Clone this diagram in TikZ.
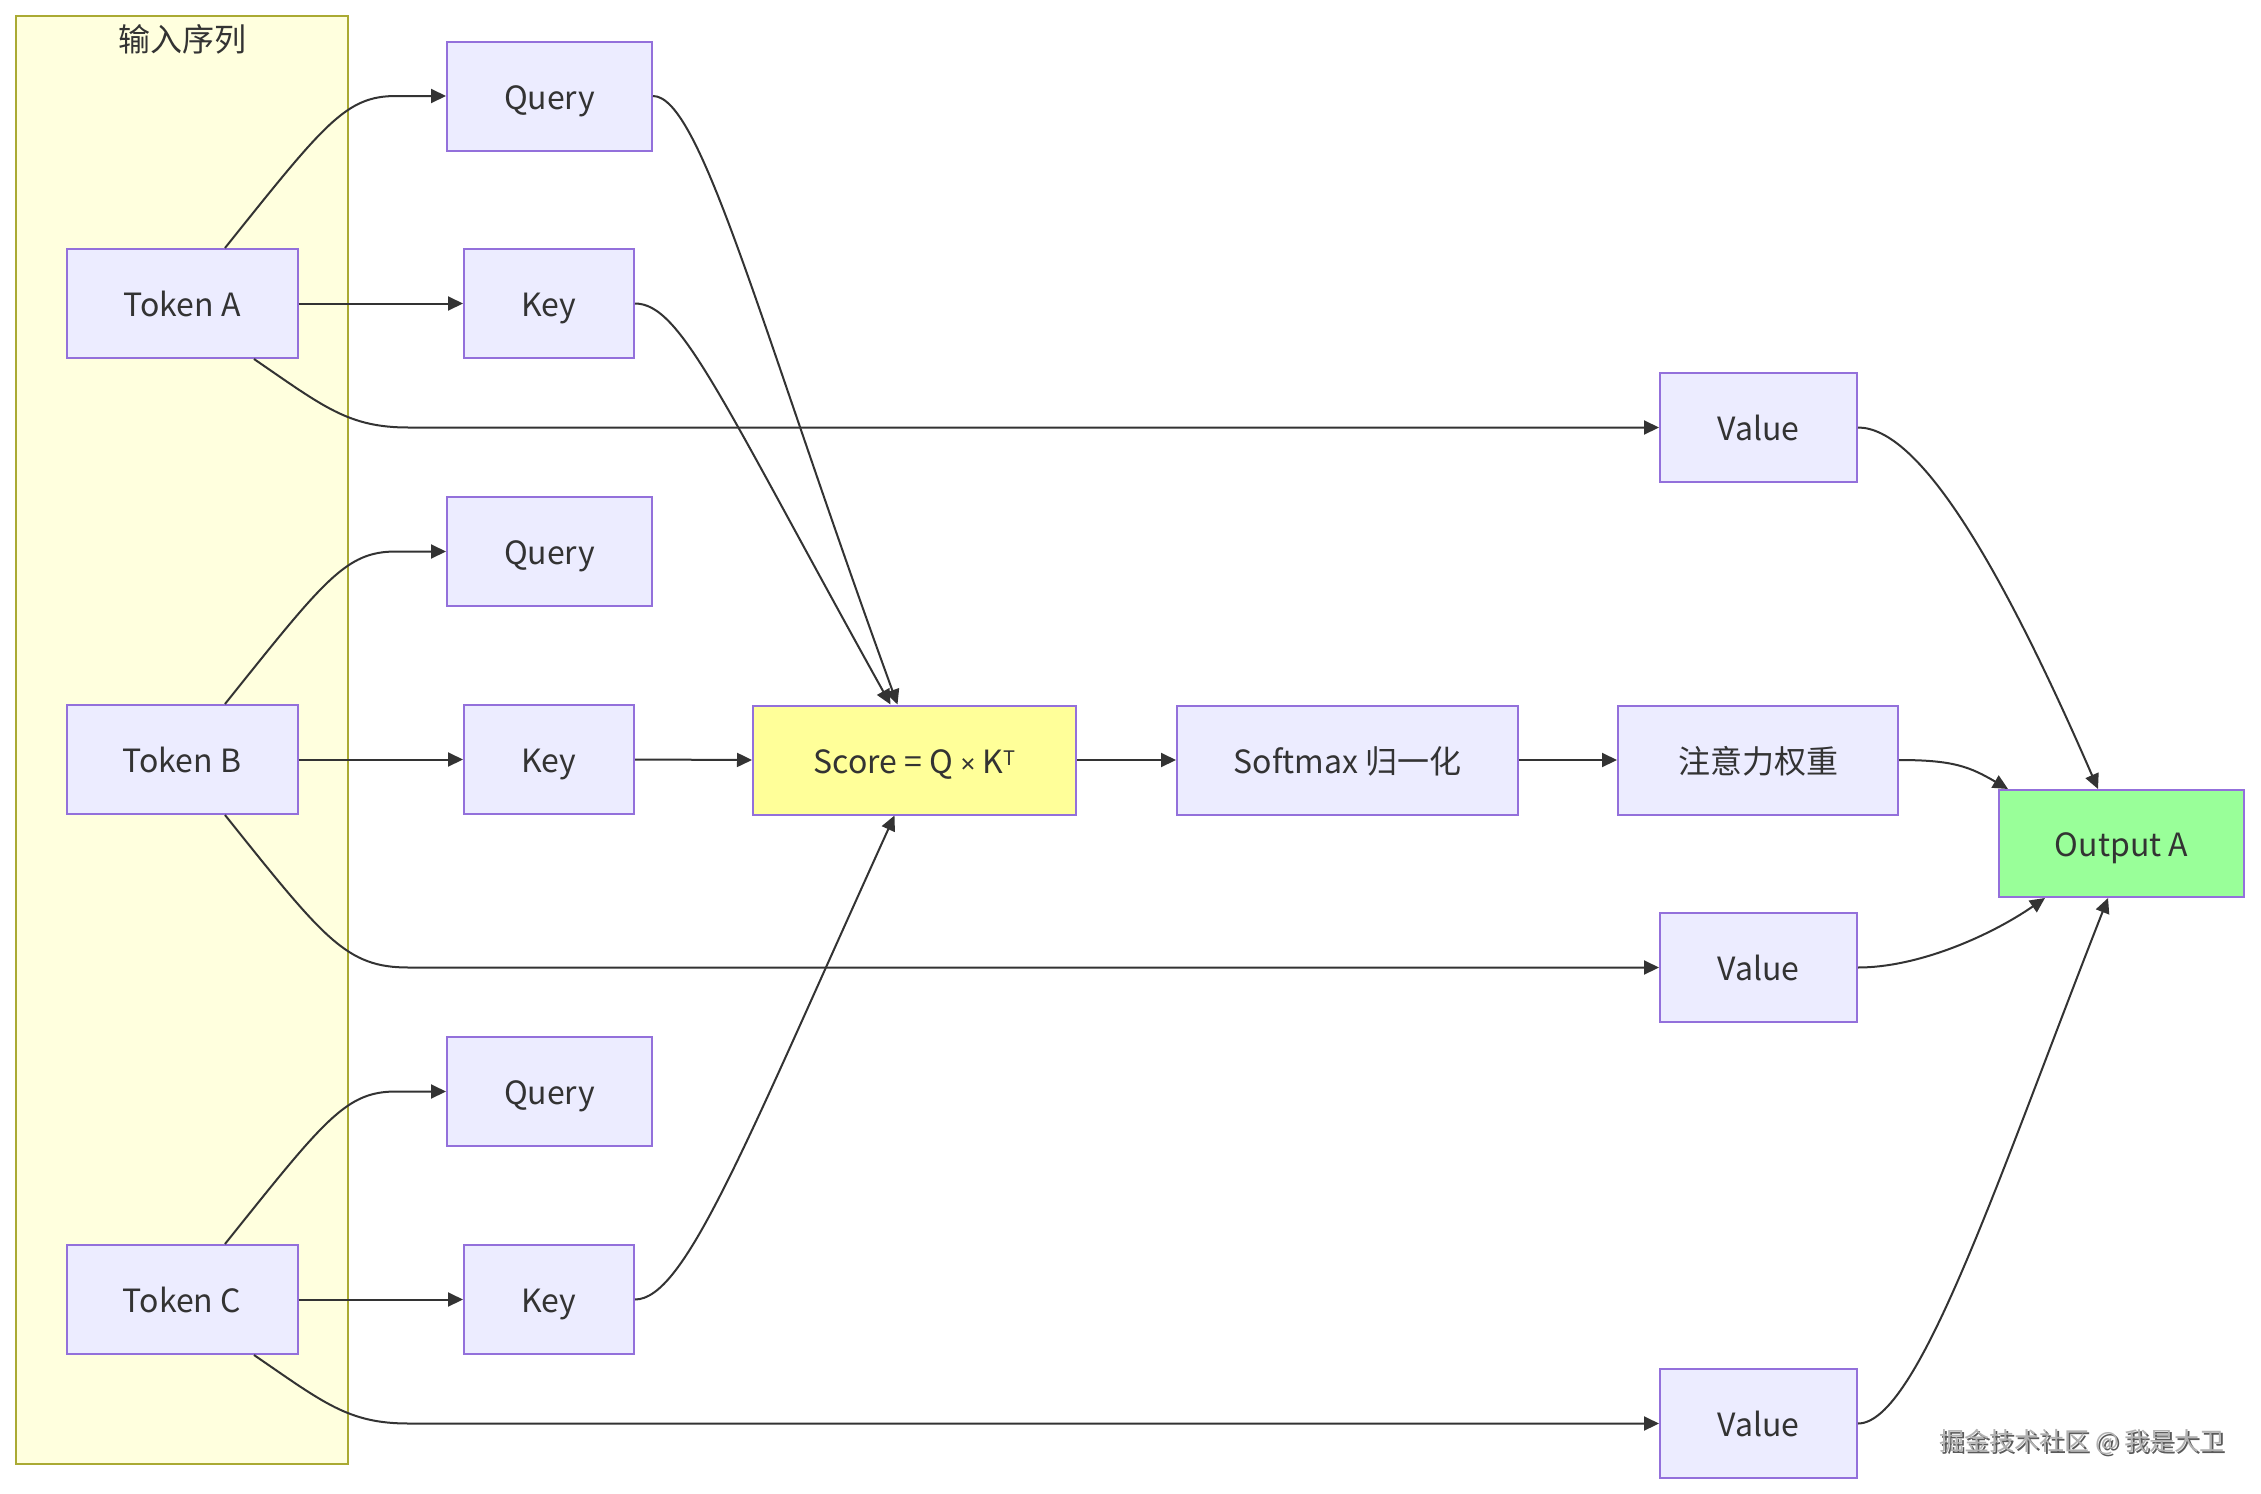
\documentclass[tikz,border=0pt]{standalone}
\usepackage{fontspec}
\setmainfont{Noto Sans CJK SC}
\newfontfamily\latinf{Noto Sans}
\usetikzlibrary{arrows.meta,calc}
\definecolor{nodefill}{HTML}{ECECFF}
\definecolor{nodeline}{HTML}{9370DB}
\definecolor{clusterfill}{HTML}{FFFFDE}
\definecolor{clusterline}{HTML}{AAAA33}
\definecolor{scorefill}{HTML}{FFFF99}
\definecolor{outfill}{HTML}{99FF99}
\definecolor{edgecol}{HTML}{333333}
\definecolor{txt}{HTML}{333333}
\begin{document}
\begin{tikzpicture}[x=0.5pt,y=-0.5pt,
  box/.style={draw=nodeline,fill=nodefill,line width=1pt,text=txt,font=\fontsize{16pt}{19pt}\selectfont,inner sep=0pt,minimum height=54.5pt,text height=13pt,text depth=0pt},
  tokbox/.style={box,minimum width=115.5pt},
  qbox/.style={box,minimum width=102.5pt},
  kbox/.style={box,minimum width=85pt},
  vbox/.style={box,minimum width=98.5pt},
  arr/.style={draw=edgecol,line width=1pt,-{Triangle[length=7.5pt,width=7pt]}}
]
\useasboundingbox (0,0) rectangle (2261,1494);
\fill[white] (0,0) rectangle (2261,1494);
% cluster
\draw[fill=clusterfill,draw=clusterline,line width=1pt] (16,16) rectangle (348,1464);
\node[text=txt,font=\fontsize{16pt}{19pt}\selectfont] (title) at (182,39) {输入序列};
% nodes
\node[tokbox] (tA) at (182,303.5) {Token A};
\node[tokbox] (tB) at (182,759.5) {Token B};
\node[tokbox] (tC) at (182,1299.5) {Token C};
\node[qbox] (qA) at (549.5,96) {Query};
\node[qbox] (qB) at (549.5,551.5) {Query};
\node[qbox] (qC) at (549.5,1091.5) {Query};
\node[kbox] (kA) at (549,303.5) {Key};
\node[kbox] (kB) at (549,759.5) {Key};
\node[kbox] (kC) at (549,1299.5) {Key};
\node[vbox] (vA) at (1758.5,427.5) {Value};
\node[vbox] (vB) at (1758.5,967.5) {Value};
\node[vbox] (vC) at (1758.5,1423.5) {Value};
\node[box,fill=scorefill,minimum width=161.5pt] (sc) at (914.5,760) {Score = Q {\latinf\fontsize{13pt}{15pt}\selectfont ×} K\raisebox{4pt}{\fontsize{10pt}{12pt}\selectfont T}};
\node[box,minimum width=170.5pt] (sm) at (1347.5,760) {Softmax 归一化};
\node[box,minimum width=140pt] (wt) at (1758,760) {注意力权重};
\node[box,fill=outfill,minimum width=122.5pt,minimum height=53.5pt] (out) at (2121.5,843.5) {Output A};
% token -> query
\foreach \t/\q in {tA/qA,tB/qB,tC/qC}{
  \draw[arr] ($(\t.north)+(43,0)$) .. controls ($(\t.north)+(143,-125)$) and ($(\q.west)+(-100,0)$) .. ($(\q.west)+(-50,0)$) -- (\q.west);
}
% token -> key
\draw[arr] (tA.east) -- (kA.west);
\draw[arr] (tB.east) -- (kB.west);
\draw[arr] (tC.east) -- (kC.west);
% token -> value
\draw[arr] ($(tA.south)+(72,0)$) .. controls ($(tA.south)+(142,48)$) and ($(vA.west -| tA.east)+(50,0)$) .. ($(vA.west -| tA.east)+(110,0)$) -- (vA.west);
\draw[arr] ($(tB.south)+(43,0)$) .. controls ($(tB.south)+(143,125)$) and ($(vB.west -| tB.east)+(48,0)$) .. ($(vB.west -| tB.east)+(110,0)$) -- (vB.west);
\draw[arr] ($(tC.south)+(72,0)$) .. controls ($(tC.south)+(142,48)$) and ($(vC.west -| tC.east)+(50,0)$) .. ($(vC.west -| tC.east)+(110,0)$) -- (vC.west);
% to score
\draw[arr] (qA.east) .. controls +(48,0) and +(-137,-376) .. ($(sc.north)+(-17,0)$);
\draw[arr] (kA.east) .. controls +(46,0) and +(-170,-306) .. ($(sc.north)+(-24,0)$);
\draw[arr] (kB.east) -- (sc.west);
\draw[arr] (kC.east) .. controls +(50,0) and +(-150,330) .. ($(sc.south)+(-20,0)$);
% chain
\draw[arr] (sc.east) -- (sm.west);
\draw[arr] (sm.east) -- (wt.west);
\draw[arr] (wt.east) .. controls +(55,0) and +(-38,-22) .. ($(out.north)+(-113.5,0)$);
% values -> output
\draw[arr] (vA.east) .. controls +(60,0) and +(-100,-230) .. ($(out.north)+(-23.5,0)$);
\draw[arr] (vB.east) .. controls +(60,0) and +(-55,38) .. ($(out.south)+(-76.5,0)$);
\draw[arr] (vC.east) .. controls +(60,0) and +(-110,280) .. ($(out.south)+(-13.5,0)$);
% watermark
\node[text=black!65,font=\fontsize{12.5pt}{15pt}\selectfont] (wmshadow) at (2084,1444) {掘金技术社区 @ 我是大卫};
\node[text=black!30,font=\fontsize{12.5pt}{15pt}\selectfont] (wm) at (2082,1442) {掘金技术社区 @ 我是大卫};
\end{tikzpicture}
\end{document}
